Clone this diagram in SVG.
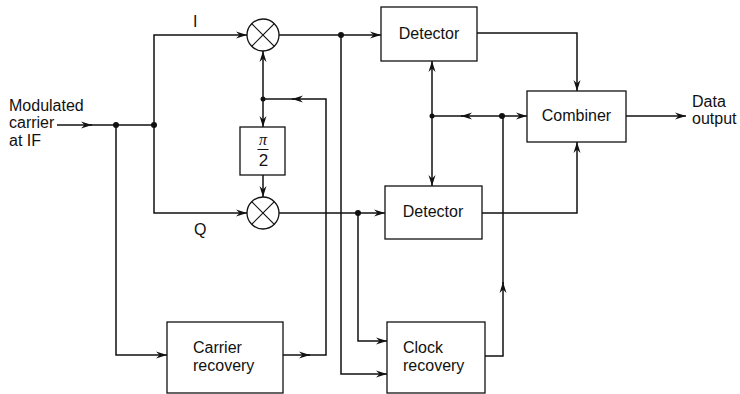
<svg xmlns="http://www.w3.org/2000/svg" width="740" height="394" viewBox="0 0 740 394">
<style>
.w{fill:none;stroke:#111;stroke-width:1.5}
.b{fill:#fff;stroke:#111;stroke-width:1.3}
.t{font-family:"Liberation Sans",Arial,sans-serif;font-size:16px;fill:#111}
.d{fill:#111}
</style>
<defs>
<marker id="a" viewBox="0 0 12 8" refX="11" refY="4" markerWidth="12" markerHeight="8" markerUnits="userSpaceOnUse" orient="auto">
<path d="M0,0.5 L11,4 L0,7.5 L3.5,4 z" fill="#111"/>
</marker>
</defs>
<g id="connectors">
<!-- input -->
<path class="w" d="M57,125 H92" marker-end="url(#a)"/>
<path class="w" d="M90,125 H154"/>
<path class="w" d="M154,125 V35 H247" marker-end="url(#a)"/>
<path class="w" d="M154,125 V213 H247" marker-end="url(#a)"/>
<path class="w" d="M116,125 V355 H167" marker-end="url(#a)"/>
<!-- carrier recovery feedback -->
<path class="w" d="M283,355 H310" marker-end="url(#a)"/>
<path class="w" d="M308,355 H326 V99 H292" marker-end="url(#a)"/>
<path class="w" d="M294,99 H263"/>
<path class="w" d="M263,99 V51" marker-end="url(#a)"/>
<path class="w" d="M263,99 V127" marker-end="url(#a)"/>
<path class="w" d="M263,175 V197" marker-end="url(#a)"/>
<!-- mixer outputs -->
<path class="w" d="M279,35 H381" marker-end="url(#a)"/>
<path class="w" d="M341,35 V374 H387" marker-end="url(#a)"/>
<path class="w" d="M279,213 H385" marker-end="url(#a)"/>
<path class="w" d="M358,213 V341 H387" marker-end="url(#a)"/>
<!-- detector outputs -->
<path class="w" d="M477,33 H577 V91" marker-end="url(#a)"/>
<path class="w" d="M482,213 H577 V142" marker-end="url(#a)"/>
<!-- clock distribution -->
<path class="w" d="M432,116 V61" marker-end="url(#a)"/>
<path class="w" d="M432,116 V186" marker-end="url(#a)"/>
<path class="w" d="M502,116 H461" marker-end="url(#a)"/>
<path class="w" d="M463,116 H432"/>
<path class="w" d="M502,116 H527" marker-end="url(#a)"/>
<path class="w" d="M485,356 H503 V282" marker-end="url(#a)"/>
<path class="w" d="M503,284 V116"/>
<!-- output -->
<path class="w" d="M626,116 H686" marker-end="url(#a)"/>
<circle class="d" cx="116" cy="125" r="3"/>
<circle class="d" cx="154" cy="125" r="3"/>
<circle class="d" cx="263" cy="99" r="2.5"/>
<circle class="d" cx="341" cy="35" r="3"/>
<circle class="d" cx="358" cy="213" r="3"/>
<circle class="d" cx="432" cy="116" r="2.5"/>
<circle class="d" cx="502" cy="116" r="3"/>
</g>
<g id="input-label">
<text class="t" x="9" y="111">Modulated</text>
<text class="t" x="9" y="128">carrier</text>
<text class="t" x="9" y="146">at IF</text>
</g>
<g id="label-I"><text class="t" x="193" y="27">I</text></g>
<g id="label-Q"><text class="t" x="194" y="235">Q</text></g>
<g id="mixer-I">
<circle class="b" cx="263" cy="35" r="16"/>
<path class="w" d="M251.7,23.7 L274.3,46.3 M274.3,23.7 L251.7,46.3" style="stroke-width:1.2"/>
</g>
<g id="mixer-Q">
<circle class="b" cx="263" cy="213" r="16"/>
<path class="w" d="M251.7,201.7 L274.3,224.3 M274.3,201.7 L251.7,224.3" style="stroke-width:1.2"/>
</g>
<g id="phase-shift">
<rect class="b" x="240" y="127" width="45" height="48"/>
<text x="263" y="145" text-anchor="middle" style="font-family:'Liberation Serif','Times New Roman',serif;font-style:italic;font-size:16px;fill:#111">π</text>
<line class="w" x1="257.5" y1="149.5" x2="268.5" y2="149.5" style="stroke-width:1"/>
<text class="t" x="263.5" y="166" text-anchor="middle" style="font-size:17px">2</text>
</g>
<g id="detector-I">
<rect class="b" x="381" y="7" width="96" height="54"/>
<text class="t" x="429" y="39" text-anchor="middle">Detector</text>
</g>
<g id="detector-Q">
<rect class="b" x="385" y="186" width="97" height="53"/>
<text class="t" x="433" y="217" text-anchor="middle">Detector</text>
</g>
<g id="combiner">
<rect class="b" x="527" y="91" width="99" height="51"/>
<text class="t" x="576.5" y="120.5" text-anchor="middle">Combiner</text>
</g>
<g id="carrier-recovery">
<rect class="b" x="167" y="322" width="116" height="71"/>
<text class="t" x="193" y="353">Carrier</text>
<text class="t" x="193" y="371">recovery</text>
</g>
<g id="clock-recovery">
<rect class="b" x="387" y="322" width="98" height="71"/>
<text class="t" x="403" y="353">Clock</text>
<text class="t" x="403" y="371">recovery</text>
</g>
<g id="output-label">
<text class="t" x="692" y="107">Data</text>
<text class="t" x="692" y="124">output</text>
</g>
</svg>
